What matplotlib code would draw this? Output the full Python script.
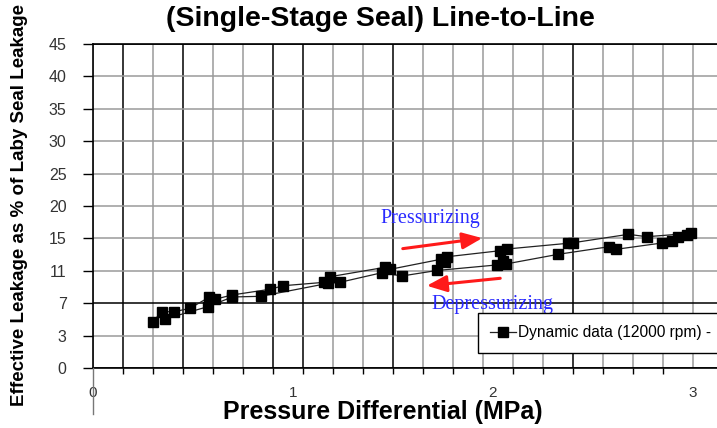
import matplotlib
matplotlib.use("Agg")
import matplotlib.pyplot as plt
from matplotlib.lines import Line2D
import numpy as np

# ---- data (Pressure differential MPa, effective leakage %) ----
press_x = [0.299, 0.344, 0.407, 0.485, 0.580, 0.610, 0.694, 0.885, 0.952, 1.157,
           1.185, 1.460, 1.485, 1.739, 1.759, 1.772, 2.035, 2.069, 2.377, 2.402,
           2.677, 2.769, 2.990]
press_y = [4.71, 5.95, 5.95, 6.37, 7.73, 7.48, 8.01, 8.72, 9.16, 9.58,
           10.27, 11.43, 11.18, 12.42, 12.12, 12.74, 13.48, 13.69, 14.40, 14.47,
           15.63, 15.26, 15.79]
depress_x = [2.970, 2.927, 2.894, 2.844, 2.615, 2.582, 2.327, 2.064, 2.049, 2.018,
             1.720, 1.545, 1.444, 1.235, 1.177, 0.839, 0.697, 0.574, 0.360]
depress_y = [15.52, 15.26, 14.62, 14.43, 13.65, 13.98, 13.04, 11.84, 12.15, 11.72,
             11.04, 10.36, 10.76, 9.58, 9.46, 7.85, 7.77, 6.57, 5.05]

x_ticks = [0, 1, 2, 3]
x_ticklabels = ['0', '1', '2', '3']
y_ticks = [0, 3, 7, 11, 15, 20, 25, 30, 35, 40, 45]
y_ticklabels = ['0', '3', '7', '11', '15', '20', '25', '30', '35', '40', '45']

title = "(Single-Stage Seal) Line-to-Line"
xlabel = "Pressure Differential (MPa)"
ylabel = "Effective Leakage as % of Laby Seal Leakage"
legend_label = "Dynamic data (12000 rpm) -"

# y axis: tick values evenly spaced (as in the original chart)
_ypos = np.arange(len(y_ticks), dtype=float)
_yval = np.array(y_ticks, dtype=float)


def _fwd(v):
    return np.interp(v, _yval, _ypos)


def _inv(p):
    return np.interp(p, _ypos, _yval)


# ---- figure ----
W, H = 717, 428
fig = plt.figure(figsize=(W / 100, H / 100), dpi=100)
ax = fig.add_axes([93 / W, 1 - 368 / H, 1 - 93 / W, (368 - 44) / H])
ax.set_yscale('function', functions=(_fwd, _inv))

xs = press_x + depress_x
ys = press_y + depress_y

ax.set_xlim(0, 3.12)
ax.set_ylim(0, 45)

# grid
grid_step = 0.15
gx = np.arange(0, 3.12, grid_step)
dark_idx = {1, 3, 6, 7, 10, 16}
for i, g in enumerate(gx):
    ax.axvline(g, color='black' if i in dark_idx else '#9a9a9a', lw=1.1, zorder=1)
for v in y_ticks:
    ax.axhline(v, color='black' if v in (0, 7, 45) else '#9a9a9a', lw=1.1, zorder=1)

ax.plot(xs, ys, color='#222222', lw=0.9, marker='s', markersize=6.8,
        markerfacecolor='black', markeredgecolor='black', zorder=3,
        label=legend_label)

# ticks
ax.set_xticks(x_ticks)
ax.set_xticklabels(x_ticklabels, fontsize=11, color='#333333', family='Liberation Sans')
ax.set_xticks(gx, minor=True)
ax.tick_params(axis='x', which='major', length=0, pad=13)
ax.tick_params(axis='x', which='minor', length=4, width=1.0, direction='out')
ax.set_yticks(y_ticks)
ax.set_yticks([], minor=True)
ax.set_yticklabels(y_ticklabels, fontsize=11.5, color='#333333', family='Liberation Sans')
ax.tick_params(axis='y', which='major', length=7, width=1.0, pad=12, direction='out')

for s in ['left', 'bottom', 'top']:
    ax.spines[s].set_color('black')
    ax.spines[s].set_linewidth(1.2)
ax.spines['right'].set_visible(False)

# left axis line extending below plot
fig.add_artist(Line2D([93 / W, 93 / W], [1 - 368 / H, 1 - 414 / H], color='#777777', lw=1.0))

# titles / labels
fig.text(380 / W, 1 - 19 / H, title, ha='center', va='center', fontsize=20.5,
         fontweight='bold', family='Liberation Sans')
fig.text(383 / W, 1 - 412 / H, xlabel, ha='center', va='center', fontsize=18,
         fontweight='bold', family='Liberation Sans')
fig.text(20 / W, 1 - 205 / H, ylabel, ha='center', va='center', rotation=90,
         fontsize=13.5, fontweight='bold', family='Liberation Sans')

# annotations
ax.text(1.685, 18.0, "Pressurizing", color='#2a2aff', fontsize=14.5,
        family='Liberation Serif', ha='center', va='center', zorder=4)
ax.text(1.995, 6.9, "Depressurizing", color='#2a2aff', fontsize=14.5,
        family='Liberation Serif', ha='center', va='center', zorder=4)
ax.annotate('', xy=(1.96, 15.1), xytext=(1.535, 13.69),
            arrowprops=dict(arrowstyle='-|>,head_length=1.2,head_width=0.5',
                            color='#ff1a1a', lw=2.2), zorder=4)
ax.annotate('', xy=(1.655, 9.12), xytext=(2.05, 10.11),
            arrowprops=dict(arrowstyle='-|>,head_length=1.2,head_width=0.5',
                            color='#ff1a1a', lw=2.2), zorder=4)

leg = ax.legend(loc='upper left', bbox_to_anchor=(478 / W, 1 - 313 / H),
                bbox_transform=fig.transFigure, frameon=True,
                fancybox=False, framealpha=1, edgecolor='black', borderpad=0.8,
                handlelength=1.65, handletextpad=0.15, borderaxespad=0,
                prop={'family': 'Liberation Sans', 'size': 11.2})
leg.get_frame().set_linewidth(1.0)
leg.set_zorder(5)

fig.savefig('out.png', dpi=100)
